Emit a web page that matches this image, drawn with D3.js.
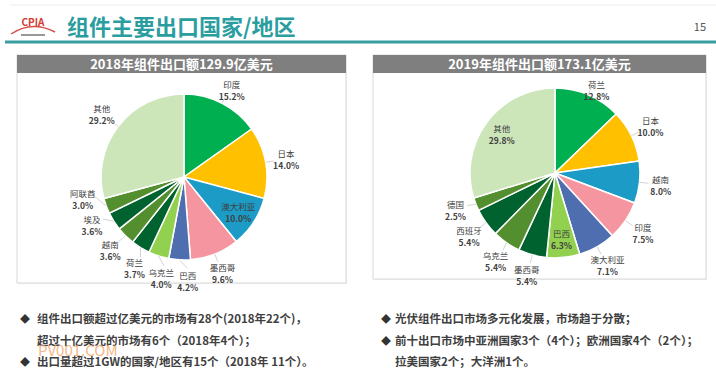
<!DOCTYPE html>
<html>
<head>
<meta charset="utf-8">
<script src="https://cdn.jsdelivr.net/npm/d3@7"></script>
<style>
  body { margin: 0; background: #fff; }
  text { font-family: "Noto Sans CJK SC", "Noto Sans", sans-serif; }
</style>
</head>
<body>
<svg width="716" height="378"></svg>
<script>
'use strict';

// 2018 data
var names2018 = ['印度', '日本', '澳大利亚', '墨西哥', '巴西', '乌克兰', '荷兰', '越南', '埃及', '阿联酋', '其他'];
var values2018 = [15.2, 14.0, 10.0, 9.6, 4.2, 4.0, 3.7, 3.6, 3.6, 3.0, 29.2];
var colors2018 = ['#00b050', '#ffc000', '#1b9bc6', '#f5959f', '#4f6eb0', '#92d050', '#00632f', '#538f2e', '#00632f', '#538f2e', '#cde6b9'];
var inside2018 = ['澳大利亚'];

// 2019 data
var names2019 = ['荷兰', '日本', '越南', '印度', '澳大利亚', '巴西', '墨西哥', '乌克兰', '西班牙', '德国', '其他'];
var values2019 = [12.8, 10.0, 8.0, 7.5, 7.1, 6.3, 5.4, 5.4, 5.4, 2.5, 29.8];
var colors2019 = ['#00b050', '#ffc000', '#1b9bc6', '#f5959f', '#4f6eb0', '#92d050', '#00632f', '#538f2e', '#00632f', '#538f2e', '#cde6b9'];
var inside2019 = ['巴西', '其他'];

var titles = ['2018年组件出口额129.9亿美元', '2019年组件出口额173.1亿美元'];
var notesLeft = [
    ['◆', '组件出口额超过亿美元的市场有28个(2018年22个)，'],
    ['', '超过十亿美元的市场有6个（2018年4个）；'],
    ['◆', '出口量超过1GW的国家/地区有15个（2018年 11个）。']
];
var notesRight = [
    ['◆', '光伏组件出口市场多元化发展，市场趋于分散；'],
    ['◆', '前十出口市场中亚洲国家3个（4个）；欧洲国家4个（2个）；'],
    ['', '拉美国家2个；大洋洲1个。']
];

var svg = d3.select('svg');

// header
svg.append('line')
    .attr('x1', 10).attr('x2', 716).attr('y1', 5).attr('y2', 5)
    .attr('stroke', '#eeeeee');
svg.append('line')
    .attr('x1', 5).attr('x2', 716).attr('y1', 42).attr('y2', 42)
    .attr('stroke', '#3a9ea0').attr('stroke-width', 3);
svg.append('text')
    .attr('x', 67).attr('y', 35)
    .attr('fill', '#2a9d9f')
    .attr('font-size', 22).attr('font-weight', 'bold')
    .text('组件主要出口国家/地区');
svg.append('text')
    .attr('x', 706).attr('y', 31)
    .attr('text-anchor', 'end')
    .attr('fill', '#555').attr('font-size', 11)
    .text('15');

// logo
var logo = svg.append('g').attr('transform', 'translate(11,12)');
logo.append('path')
    .attr('d', 'M0,22 Q21,8 44,20')
    .attr('fill', 'none').attr('stroke', '#d7504a').attr('stroke-width', 1.5);
logo.append('text')
    .attr('x', 22).attr('y', 14).attr('text-anchor', 'middle')
    .attr('fill', '#d43a33').attr('font-size', 10).attr('font-weight', 'bold')
    .text('CPIA');
logo.append('rect')
    .attr('x', 10).attr('y', 22).attr('width', 24).attr('height', 2)
    .attr('fill', '#999');

function drawPanel(opts) {
    var g = svg.append('g');

    g.append('rect')
        .attr('x', opts.x0 + 1).attr('y', opts.y0 + 1)
        .attr('width', opts.x1 - opts.x0).attr('height', opts.y1 - opts.y0)
        .attr('fill', '#f0f0f0');
    g.append('rect')
        .attr('x', opts.x0).attr('y', opts.y0)
        .attr('width', opts.x1 - opts.x0).attr('height', opts.y1 - opts.y0)
        .attr('fill', '#fff').attr('stroke', '#d9d9d9');
    g.append('rect')
        .attr('x', opts.x0).attr('y', opts.y0)
        .attr('width', opts.x1 - opts.x0).attr('height', 18)
        .attr('fill', '#7f7f7f');
    g.append('text')
        .attr('x', (opts.x0 + opts.x1) / 2).attr('y', opts.y0 + 14)
        .attr('text-anchor', 'middle')
        .attr('fill', '#fff').attr('font-size', 13).attr('font-weight', 'bold')
        .text(opts.title);

    var data = opts.names.map(function(n, i) {
        return {name: n, value: opts.values[i], color: opts.colors[i]};
    });

    var pie = d3.pie().sort(null).value(function(d) { return d.value; });
    var arcs = pie(data);
    var arc = d3.arc().innerRadius(0).outerRadius(opts.r);
    var arcIn = d3.arc().innerRadius(opts.r * 0.78).outerRadius(opts.r * 0.78);
    var arcEdge = d3.arc().innerRadius(opts.r).outerRadius(opts.r);
    var labelR = opts.r * 1.25;
    var topLimit = opts.y0 + 35 - opts.cy;

    var pg = g.append('g')
        .attr('transform', 'translate(' + opts.cx + ',' + opts.cy + ')');

    pg.selectAll('.slice')
        .data(arcs)
        .enter()
        .append('path')
        .attr('class', 'slice')
        .attr('d', arc)
        .attr('fill', function(d) { return d.data.color; })
        .attr('stroke', '#fff')
        .attr('stroke-width', 1.5);

    var isIn = function(d) { return opts.inside.indexOf(d.data.name) >= 0; };

    var labels = pg.selectAll('.lbl')
        .data(arcs)
        .enter()
        .append('text')
        .attr('class', 'lbl')
        .attr('text-anchor', 'middle')
        .attr('font-size', 8.5)
        .attr('fill', '#404040');
    labels.append('tspan')
        .attr('x', 0).attr('y', -2)
        .text(function(d) { return d.data.name; });
    labels.append('tspan')
        .attr('x', 0).attr('y', 10)
        .attr('font-weight', 'bold')
        .text(function(d) { return d.data.value.toFixed(1) + '%'; });

    // place outside labels on a ring, then spread overlapping neighbours apart
    labels.each(function(d) {
        d.w = this.getBBox().width;
        d.ang = (d.startAngle + d.endAngle) / 2;
    });
    var pos = function(d) {
        if (isIn(d)) return arcIn.centroid(d);
        var x = labelR * Math.sin(d.ang), y = -labelR * Math.cos(d.ang);
        return [x, Math.max(y, topLimit)];
    };
    var outer = arcs.filter(function(d) { return !isIn(d); })
        .sort(function(a, b) { return a.ang - b.ang; });
    for (var it = 0; it < 300; it++) {
        var moved = false;
        for (var i = 0; i < outer.length - 1; i++) {
            var a = outer[i], b = outer[i + 1];
            var pa = pos(a), pb = pos(b);
            if (Math.abs(pa[0] - pb[0]) < (a.w + b.w) / 2 + 3 && Math.abs(pa[1] - pb[1]) < 25) {
                a.ang -= 0.005;
                b.ang += 0.005;
                moved = true;
            }
        }
        if (!moved) break;
    }

    labels.attr('transform', function(d) {
        var p = pos(d);
        return 'translate(' + p[0] + ',' + p[1] + ')';
    });

    pg.selectAll('.leader')
        .data(outer)
        .enter()
        .append('line')
        .attr('class', 'leader')
        .attr('x1', function(d) { return arcEdge.centroid(d)[0]; })
        .attr('y1', function(d) { return arcEdge.centroid(d)[1]; })
        .attr('x2', function(d) { return opts.r * 1.1 * Math.sin(d.ang); })
        .attr('y2', function(d) { return -opts.r * 1.1 * Math.cos(d.ang); })
        .attr('stroke', '#c8c8c8').attr('stroke-width', 0.8);
}

drawPanel({x0: 17, x1: 346, y0: 55, y1: 283, cx: 184, cy: 177, r: 83,
    title: titles[0], names: names2018, values: values2018, colors: colors2018, inside: inside2018});
drawPanel({x0: 373, x1: 706, y0: 55, y1: 279, cx: 555, cy: 173, r: 85,
    title: titles[1], names: names2019, values: values2019, colors: colors2019, inside: inside2019});

// notes
function drawNotes(lines, xBullet, xText) {
    var y = d3.scaleLinear().domain([0, 2]).range([323, 366]);
    lines.forEach(function(l, i) {
        if (l[0]) {
            svg.append('text')
                .attr('x', xBullet).attr('y', y(i))
                .attr('font-size', 10).attr('fill', '#333')
                .text(l[0]);
        }
        svg.append('text')
            .attr('x', xText).attr('y', y(i))
            .attr('font-size', 11.5).attr('font-weight', 'bold').attr('fill', '#404040')
            .text(l[1]);
    });
}
drawNotes(notesLeft, 20, 37);
drawNotes(notesRight, 381, 395);

// watermark
svg.append('text')
    .attr('x', 38).attr('y', 356)
    .attr('font-family', 'Liberation Sans, sans-serif')
    .attr('font-size', 15).attr('fill', '#f0a060').attr('opacity', 0.75)
    .text('PV001.COM');
</script>
</body>
</html>
